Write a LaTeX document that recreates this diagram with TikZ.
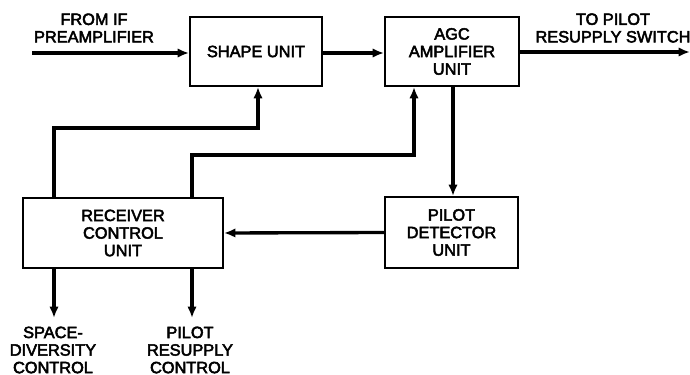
\documentclass[tikz,border=0pt]{standalone}
\usepackage{fontspec}
\setmainfont{Liberation Sans}[FakeBold=3]
\usetikzlibrary{arrows.meta}

\begin{document}
\begin{tikzpicture}[x=0.02cm, y=-0.02cm, >={Latex[length=2.3mm,width=1.9mm]},
    every node/.style={font=\fontsize{9.3}{10}\selectfont},
    unitbox/.style={draw, line width=1.1pt, align=center, inner sep=0pt},
    sig/.style={line width=1.9pt},
    lbl/.style={align=center}]
    \useasboundingbox (0,0) rectangle (690,375);
    % units
    \node[unitbox, minimum width=2.64cm, minimum height=1.38cm] (shape) at (256,51.5) {SHAPE UNIT};
    \node[unitbox, minimum width=2.68cm, minimum height=1.38cm] (agc) at (452,51.5) {AGC\\AMPLIFIER\\UNIT};
    \node[unitbox, minimum width=2.66cm, minimum height=1.42cm] (pilot) at (451.5,232.5) {PILOT\\DETECTOR\\UNIT};
    \node[unitbox, minimum width=4.0cm, minimum height=1.4cm] (rcv) at (123,233) {RECEIVER\\CONTROL\\UNIT};
    % free ends and corners
    \coordinate (in) at (32,53);
    \coordinate (out) at (690,52);
    \coordinate (sdc) at (54,318);
    \coordinate (prc) at (192,318);
    \coordinate (j1) at (258,128);
    \coordinate (j2) at (414,155);
    % labels
    \node[lbl] (inlbl) at (94,28) {FROM IF\\PREAMPLIFIER};
    \node[lbl] (outlbl) at (613,28) {TO PILOT\\RESUPPLY SWITCH};
    \node[lbl] (sdlbl) at (53,350) {SPACE-\\DIVERSITY\\CONTROL};
    \node[lbl] (prlbl) at (190,350) {PILOT\\RESUPPLY\\CONTROL};
    % signal paths
    \draw[sig,->] (in) -- (in -| shape.west);
    \draw[sig,->] (shape.east |- in) -- (agc.west |- in);
    \draw[sig,->] (agc.east |- out) -- (out);
    \draw[sig,->] (agc.south -| 453,0) -- (pilot.north -| 453,0);
    \draw[sig,->] (pilot.west) -- (rcv.east);
    \draw[sig,->] (sdc |- rcv.north) |- (j1) -- (j1 |- shape.south);
    \draw[sig,->] (prc |- rcv.north) |- (j2) -- (j2 |- agc.south);
    \draw[sig,->] (sdc |- rcv.south) -- (sdc);
    \draw[sig,->] (prc |- rcv.south) -- (prc);
\end{tikzpicture}
\end{document}
